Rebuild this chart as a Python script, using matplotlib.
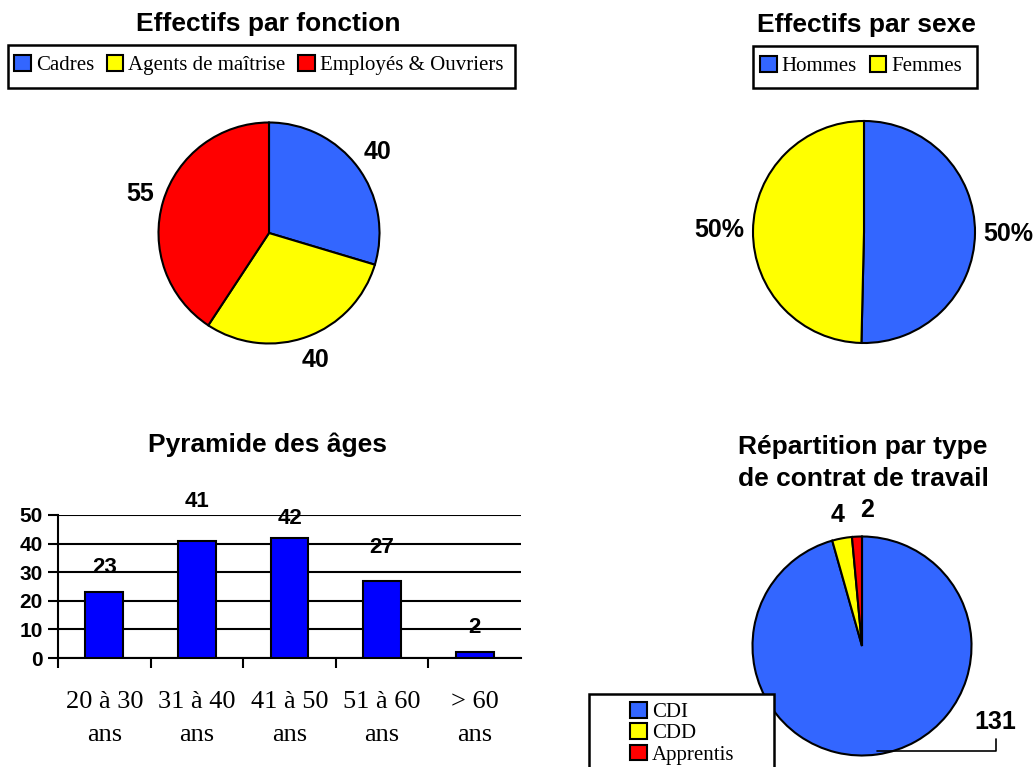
import numpy as np
import matplotlib.pyplot as plt
from matplotlib.patches import Rectangle, Patch

plt.rcParams['font.family'] = ['Liberation Sans', 'DejaVu Sans']

# données
fonction_labels = ['Cadres', 'Agents de maîtrise', 'Employés & Ouvriers']
fonction_values = [40, 40, 55]

sexe_labels = ['Hommes', 'Femmes']
sexe_values = [68, 67]

age_labels = ['20 à 30\nans', '31 à 40\nans', '41 à 50\nans', '51 à 60\nans', '> 60\nans']
age_values = [23, 41, 42, 27, 2]

contrat_labels = ['CDI', 'CDD', 'Apprentis']
contrat_values = [131, 4, 2]

BLUE = '#3366ff'
YELLOW = '#ffff00'
RED = '#ff0000'

W, H = 1034, 767
fig = plt.figure(figsize=(W / 100, H / 100), dpi=100)


def box(x0, y0, x1, y1):
    # pixels -> coordonnées figure
    return [x0 / W, 1 - y1 / H, (x1 - x0) / W, (y1 - y0) / H]


def pie_axes(cx, cy, r):
    ax = fig.add_axes(box(cx - r, cy - r, cx + r, cy + r))
    return ax


def frame(x0, y0, x1, y1):
    b = box(x0, y0, x1, y1)
    fig.patches.append(Rectangle((b[0], b[1]), b[2], b[3], transform=fig.transFigure,
                                 facecolor='white', edgecolor='black', linewidth=1.8, zorder=0))


def legend(labels, colors, x, y, ncol, **kw):
    handles = [Patch(facecolor=c, edgecolor='black', linewidth=1.5) for c in colors]
    fig.legend(handles, labels, loc='upper left', bbox_to_anchor=(x / W, 1 - y / H),
               ncol=ncol, frameon=False, borderpad=0, borderaxespad=0,
               prop={'family': 'Liberation Serif', 'size': 15},
               handlelength=0.8, handleheight=0.8, handletextpad=0.25, **kw)


def title(x, y, s, **kw):
    fig.text(x / W, 1 - y / H, s, ha='center', va='center', fontsize=19,
             fontweight='bold', **kw)


wp = dict(edgecolor='black', linewidth=1.5)
lab = dict(fontsize=18, fontweight='bold')

# Effectifs par fonction
title(268, 24, 'Effectifs par fonction')
frame(8, 45, 515, 88)
legend(fonction_labels, [BLUE, YELLOW, RED], 14, 55, 3, columnspacing=0.6)

ax1 = pie_axes(269, 233, 110.5)
w, t = ax1.pie(fonction_values, labels=[str(v) for v in fonction_values], colors=[BLUE, YELLOW, RED],
               startangle=90, counterclock=False, labeldistance=1.22, wedgeprops=wp, textprops=lab)
for tx in t:
    tx.set_ha('center')
ax1.set_xlim(-1, 1)
ax1.set_ylim(-1, 1)

# Effectifs par sexe
title(866, 25, 'Effectifs par sexe')
frame(753, 46, 977, 88)
legend(sexe_labels, [BLUE, YELLOW], 760, 56, 2, columnspacing=0.6)

ax2 = pie_axes(864, 232, 111)
pct = [f'{v / sum(sexe_values) * 100:.0f}%' for v in sexe_values]
w, t = ax2.pie(sexe_values, labels=pct, colors=[BLUE, YELLOW],
               startangle=90, counterclock=False, labeldistance=1.3, wedgeprops=wp, textprops=lab)
for tx in t:
    tx.set_ha('center')
ax2.set_xlim(-1, 1)
ax2.set_ylim(-1, 1)

# Pyramide des âges
title(267, 445, 'Pyramide des âges')
ax3 = fig.add_axes(box(58, 515, 521, 658))
x = np.arange(len(age_values)) + 0.5
bars = ax3.bar(x, age_values, width=0.41, color='#0000ff', edgecolor='black', linewidth=1.5, zorder=3)
offsets_px = [25, 39, 19, 33, 25]
for xi, v, off in zip(x, age_values, offsets_px):
    ax3.annotate(str(v), (xi, v), xytext=(0, off * 0.72), textcoords='offset points',
                 ha='center', va='center', fontsize=16, fontweight='bold')
ax3.set_xlim(0, 5)
ax3.set_ylim(0, 50)
ax3.set_yticks(range(0, 51, 10))
ax3.grid(axis='y', color='black', linewidth=1.5, zorder=0)
ax3.set_xticks(range(0, 5))
ax3.set_xticklabels([])
ax3.set_xticks(x, minor=True)
ax3.set_xticklabels(age_labels, minor=True, fontfamily='Liberation Serif', fontsize=19,
                    linespacing=1.65)
ax3.tick_params(axis='x', which='major', length=7, width=1.5, direction='out')
ax3.tick_params(axis='x', which='minor', length=0, pad=24)
ax3.tick_params(axis='y', length=7, width=1.5, pad=4, labelsize=15)
for lbl in ax3.get_yticklabels():
    lbl.set_fontweight('bold')
for s in ['top', 'right']:
    ax3.spines[s].set_visible(False)
ax3.spines['left'].set_linewidth(1.5)
ax3.spines['bottom'].set_linewidth(1.5)
ax3.set_facecolor('none')

# Répartition par type de contrat de travail
title(863, 463, 'Répartition par type\nde contrat de travail', linespacing=1.45)
ax4 = pie_axes(862, 646, 109.5)
w, t = ax4.pie(contrat_values, labels=[''] + [str(v) for v in contrat_values[1:]],
               colors=[BLUE, YELLOW, RED], startangle=90, counterclock=False,
               labeldistance=1.22, wedgeprops=wp, textprops=lab)
for tx in t:
    tx.set_ha('center')
# petit décalage de l'étiquette "2" vers la droite, comme sur l'original
t[2].set_position((t[2].get_position()[0] + 0.1, t[2].get_position()[1] + 0.02))
ax4.set_xlim(-1, 1)
ax4.set_ylim(-1, 1)
th = np.deg2rad((w[0].theta1 + w[0].theta2) / 2)
ax4.annotate(str(contrat_values[0]), (np.cos(th) * 0.97, np.sin(th) * 0.97),
             xytext=(1.22, -0.69), ha='center', va='center', **lab, annotation_clip=False,
             arrowprops=dict(arrowstyle='-', color='black', linewidth=1.2,
                             connectionstyle='angle,angleA=90,angleB=0,rad=0',
                             shrinkA=2, shrinkB=0))

frame(589, 694, 774, 790)
legend(contrat_labels, [BLUE, YELLOW, RED], 630, 702, 1, labelspacing=0.05)

fig.savefig('out.png', dpi=100)
